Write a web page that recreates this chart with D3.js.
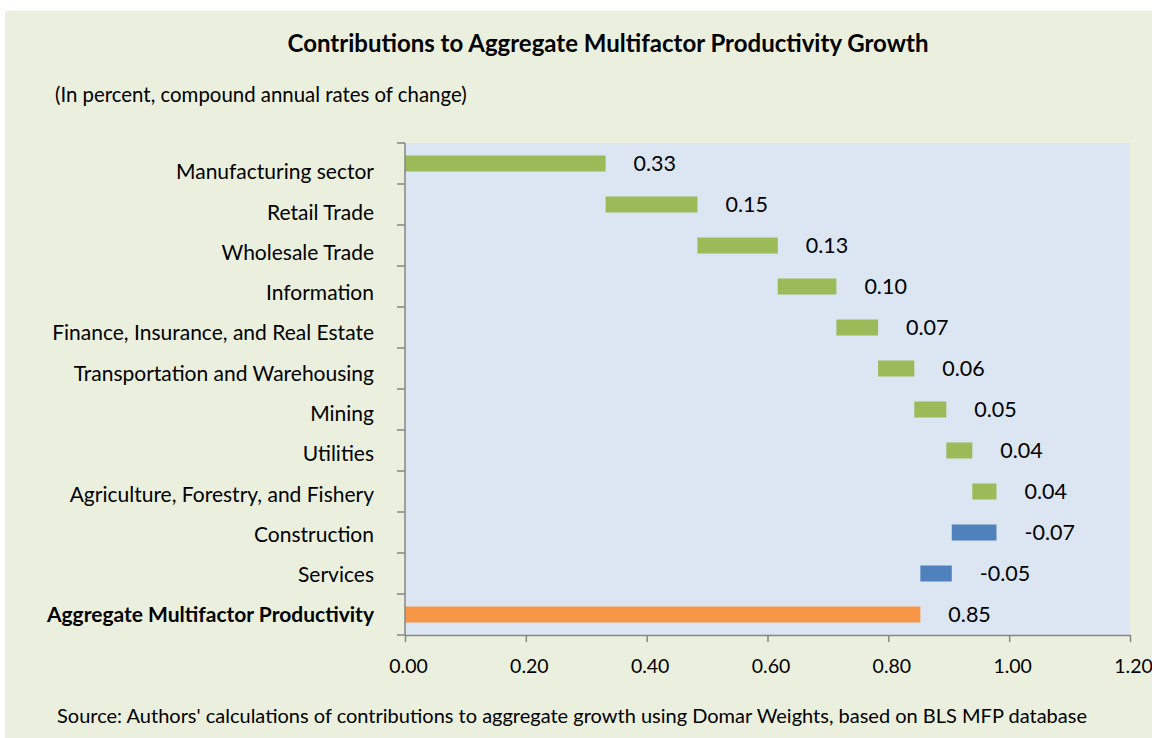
<!DOCTYPE html>
<html>
<head>
<meta charset="utf-8">
<script src="https://cdn.jsdelivr.net/npm/d3@7"></script>
<style>
  body { margin: 0; background: #fff; }
  text { font-family: Lato, "Open Sans", sans-serif; fill: #000; }
</style>
</head>
<body>
<svg id="chart" width="1152" height="738"></svg>
<script>
// categories top to bottom, last one is the total
const categories = [
  "Manufacturing sector", "Retail Trade", "Wholesale Trade", "Information",
  "Finance, Insurance, and Real Estate", "Transportation and Warehousing",
  "Mining", "Utilities", "Agriculture, Forestry, and Fishery",
  "Construction", "Services"
];
const totalLabel = "Aggregate Multifactor Productivity";
const contributions = [0.332, 0.152, 0.133, 0.097, 0.069, 0.060, 0.053, 0.043, 0.040, -0.074, -0.052];
const xTicks = [0, 0.2, 0.4, 0.6, 0.8, 1.0, 1.2];

const svg = d3.select("#chart");
// plain hyphen for negatives, like the original
const fmt = d3.formatLocale({decimal: ".", thousands: ",", grouping: [3], currency: ["", ""], minus: "-"}).format(".2f");

// outer background
svg.append("rect")
    .attr("x", 5).attr("y", 11)
    .attr("width", 1147).attr("height", 727)
    .attr("fill", "#ebf0de");

const plot = {left: 405, right: 1130, top: 143, bottom: 635};

svg.append("rect")
    .attr("x", plot.left).attr("y", plot.top)
    .attr("width", plot.right - plot.left).attr("height", plot.bottom - plot.top)
    .attr("fill", "#dce6f2");

// build waterfall rows
let run = 0;
const rows = categories.map(function(c, i) {
  const start = run;
  run += contributions[i];
  return {name: c, start: start, end: run, value: contributions[i], kind: contributions[i] >= 0 ? "up" : "down"};
});
rows.push({name: totalLabel, start: 0, end: run, value: run, kind: "total"});

const names = rows.map(d => d.name);
const colours = {up: "#9bbb59", down: "#4f81bd", total: "#f79646"};

const x = d3.scaleLinear().domain([0, 1.2]).range([plot.left, plot.right]);
const y = d3.scaleBand().domain(names).range([plot.top, plot.bottom]).paddingInner(0.61).paddingOuter(0.305);
// category text sits a little below the bar centres in the original
const yLabel = d3.scalePoint().domain(names).range([172, 615]);

svg.selectAll("rect.bar")
    .data(rows)
    .enter()
    .append("rect")
    .attr("class", "bar")
    .attr("x", d => x(Math.min(d.start, d.end)))
    .attr("width", d => Math.abs(x(d.end) - x(d.start)))
    .attr("y", d => y(d.name))
    .attr("height", y.bandwidth())
    .attr("fill", d => colours[d.kind]);

// value labels
svg.selectAll("text.val")
    .data(rows)
    .enter()
    .append("text")
    .attr("class", "val")
    .attr("x", d => x(Math.max(d.start, d.end)) + 28)
    .attr("y", d => y(d.name) + y.bandwidth() / 2)
    .attr("dy", "0.35em")
    .attr("font-size", 21.5)
    .text(d => fmt(d.value));

// category labels
svg.selectAll("text.cat")
    .data(rows)
    .enter()
    .append("text")
    .attr("class", "cat")
    .attr("x", 374)
    .attr("y", d => yLabel(d.name))
    .attr("dy", "0.35em")
    .attr("text-anchor", "end")
    .attr("font-size", 21)
    .attr("font-weight", d => d.kind === "total" ? "bold" : "normal")
    .text(d => d.name);

// y axis line with ticks at band boundaries
const yAxisG = svg.append("g");
yAxisG.append("line")
    .attr("x1", plot.left).attr("x2", plot.left)
    .attr("y1", plot.top).attr("y2", plot.bottom)
    .attr("stroke", "#868686").attr("stroke-width", 1.5);
const step = (plot.bottom - plot.top) / names.length;
yAxisG.selectAll("line.tick")
    .data(d3.range(names.length + 1))
    .enter()
    .append("line")
    .attr("class", "tick")
    .attr("x1", plot.left - 8).attr("x2", plot.left)
    .attr("y1", i => plot.top + i * step).attr("y2", i => plot.top + i * step)
    .attr("stroke", "#868686").attr("stroke-width", 1.5);

// x axis
const xAxis = d3.axisBottom(x).tickValues(xTicks).tickFormat(fmt).tickSize(7).tickSizeOuter(0);
const xg = svg.append("g")
    .attr("transform", "translate(0," + plot.bottom + ")")
    .call(xAxis);
xg.select(".domain").attr("stroke", "#868686").attr("stroke-width", 1.5);
xg.selectAll(".tick line").attr("stroke", "#868686").attr("stroke-width", 1.5);
xg.selectAll(".tick text")
    .attr("font-size", 19.5)
    .attr("font-family", "Lato, sans-serif")
    .attr("fill", "#000")
    .attr("x", 3)
    .attr("y", 31)
    .attr("dy", "0.35em");

// titles
svg.append("text")
    .attr("x", 608).attr("y", 44)
    .attr("dy", "0.35em")
    .attr("text-anchor", "middle")
    .attr("font-size", 24)
    .attr("font-weight", "bold")
    .text("Contributions to Aggregate Multifactor Productivity Growth");

svg.append("text")
    .attr("x", 55).attr("y", 95)
    .attr("dy", "0.35em")
    .attr("font-size", 20.4)
    .text("(In percent, compound annual rates of change)");

svg.append("text")
    .attr("x", 57).attr("y", 716)
    .attr("dy", "0.35em")
    .attr("font-size", 20)
    .text("Source: Authors' calculations of contributions to aggregate growth using Domar Weights, based on BLS MFP database");
</script>
</body>
</html>
